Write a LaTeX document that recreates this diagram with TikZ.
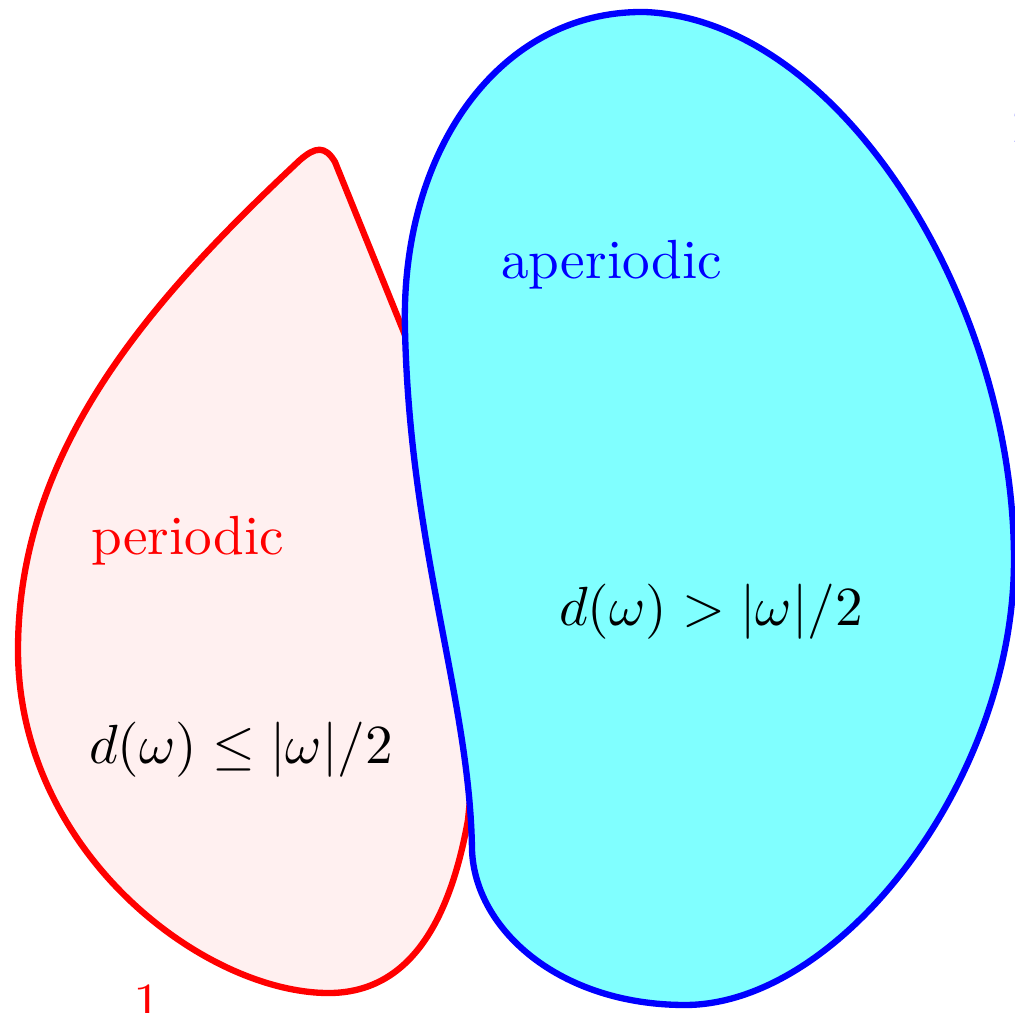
\documentclass[tikz,border=0pt]{standalone}
\usepackage{amsmath}
\usepackage{xcolor}
\usepackage{tikz}
\definecolor{cfper}{rgb}{1.00,0.94,0.94}
\definecolor{cfaper}{rgb}{0.50,1.00,1.00}
\begin{document}
\begin{tikzpicture}[every node/.style={scale=1.57, inner sep=0pt}]
  \useasboundingbox (0,0) rectangle (10.15,10.12);
  \clip (0,0) rectangle (10.15,10.12);
  % periodic region
  \draw[line width=1.8pt, red, fill=cfper, line join=round] (3.00,8.52) .. controls (3.15,8.65) and (3.25,8.67) .. (3.35,8.50)
     -- (4.05,6.77) -- (4.80,5.12) -- (4.80,3.12) -- (4.68,1.92)
     .. controls (4.50,0.92) and (4.10,0.17) .. (3.25,0.19)
     .. controls (2.00,0.22) and (0.18,1.62) .. (0.18,3.62)
     .. controls (0.18,5.62) and (1.50,7.12) .. (3.00,8.52) -- cycle;
  % aperiodic region
  \draw[line width=1.8pt, blue, fill=cfaper] (6.45,10.00) .. controls (5.00,10.02) and (4.00,8.62) .. (4.05,6.82)
     .. controls (4.10,4.62) and (4.70,3.12) .. (4.72,1.62)
     .. controls (4.75,0.82) and (5.60,0.07) .. (6.85,0.07)
     .. controls (8.40,0.07) and (10.14,2.32) .. (10.14,4.52)
     .. controls (10.14,7.12) and (8.40,9.92) .. (6.45,10.00) -- cycle;
  % labels
  \node[red, anchor=base west] (per) at (0.90,4.57) {periodic};
  \node[anchor=west] (perc) at (0.88,2.62) {$d(\omega)\le|\omega|/2$};
  \node[blue, anchor=base west] (aper) at (5.00,7.34) {aperiodic};
  \node[anchor=west] (aperc) at (5.58,4.00) {$d(\omega)>|\omega|/2$};
  \node[red, anchor=base] (one) at (1.47,-0.09) {1};
  \node[blue, anchor=base west] (two) at (10.11,8.70) {2};
\end{tikzpicture}
\end{document}
